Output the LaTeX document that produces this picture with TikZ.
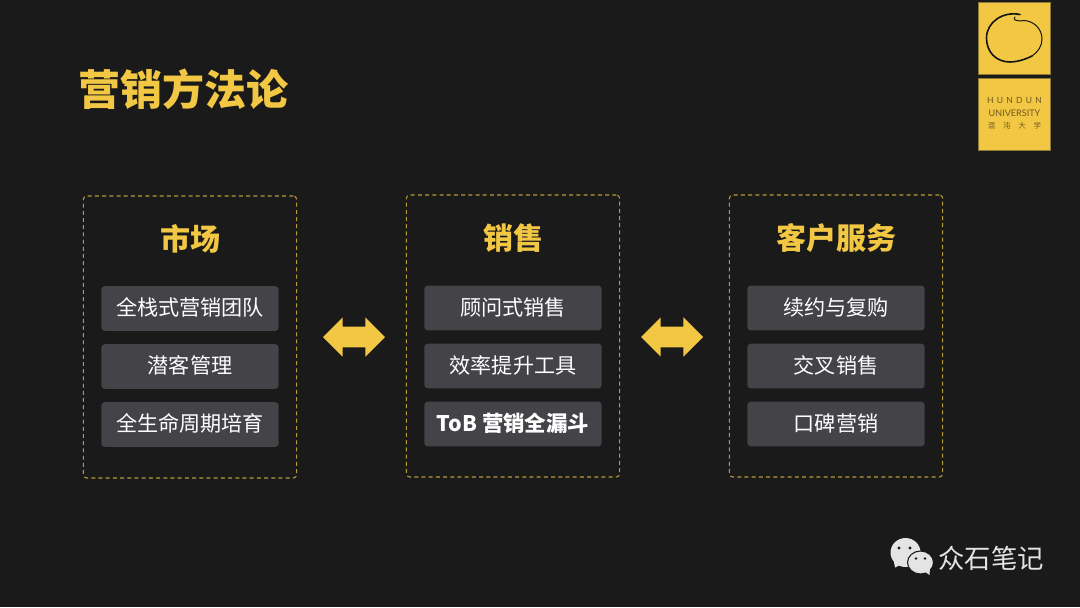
\documentclass[tikz,border=0pt]{standalone}
\usepackage{fontspec}
\setmainfont{Noto Sans CJK SC}
\newfontfamily\latinlogo{Lato}
\usetikzlibrary{shapes.arrows}
\definecolor{bgc}{HTML}{1A1A1A}
\definecolor{gold}{HTML}{F2C744}
\definecolor{dashc}{HTML}{B89A36}
\definecolor{itemc}{HTML}{434348}
\definecolor{inkc}{HTML}{141414}
\definecolor{logotext}{HTML}{6E5A20}
\definecolor{iconc}{HTML}{E4E4E4}
\definecolor{edgec}{HTML}{8E7A34}
\newcommand{\pxfont}[1]{\fontsize{#1}{#1}\selectfont}
\tikzset{
 panel/.style={draw=dashc,line width=0.8pt,dash pattern=on 3pt off 2.4pt,rounded corners=2.5pt,minimum width=160pt,minimum height=211.5pt,inner sep=0pt,outer sep=0pt},
 item/.style={fill=itemc,rounded corners=2.5pt,minimum width=133pt,minimum height=33.5pt,inner sep=0pt,text=white,font=\pxfont{15.85pt},text height=12pt,text depth=0.9pt},
 head/.style={text=gold,font=\bfseries\pxfont{22.5pt},inner sep=0pt,text height=18pt,text depth=0.9pt},
 link/.style={double arrow,fill=gold,draw=none,minimum height=46.5pt,minimum width=29.25pt,double arrow head extend=7pt,double arrow tip angle=90,inner xsep=0pt,inner ysep=7.5pt},
 logobox/.style={fill=gold,draw=edgec,line width=0.6pt,minimum width=54.5pt,minimum height=54pt,inner sep=0pt},
 logotxt/.style={text=logotext,inner sep=0pt},
 ink/.style={draw=inkc,line cap=round,line join=round},
}
\begin{document}
\begin{tikzpicture}[x=0.75pt,y=-0.75pt]
\fill[bgc] (0,0) rectangle (1080,607);
\useasboundingbox (0,0) rectangle (1080,607);
\node[text=gold,font=\bfseries\pxfont{31.5pt},inner sep=0pt,anchor=west,text height=26pt,text depth=3pt] (title) at (78.5,90) {营销方法论};

\node[panel] (p1) at (190,337) {};
\node[panel] (p2) at (513,336) {};
\node[panel] (p3) at (836,336) {};
\node[head] (h1) at (190,239) {市场};
\node[head] (h2) at (513,238) {销售};
\node[head] (h3) at (836,238) {客户服务};

\node[item] (a1) at (190,308.5) {全栈式营销团队};
\node[item] (a2) at (190,366.5) {潜客管理};
\node[item] (a3) at (190,424.5) {全生命周期培育};
\node[item] (b1) at (513,308) {顾问式销售};
\node[item] (b2) at (513,366) {效率提升工具};
\node[item,font=\bfseries\pxfont{16.1pt}] (b3) at (513,424) {ToB 营销全漏斗};
\node[item] (c1) at (836,308) {续约与复购};
\node[item] (c2) at (836,366) {交叉销售};
\node[item] (c3) at (836,424) {口碑营销};

\node[link] (l1) at (354,337) {};
\node[link] (l2) at (672,337) {};

\node[logobox] (logoa) at (1014.5,38) {};
\node[logobox] (logob) at (1014.5,114) {};
\draw[ink,line width=1.2pt] (1020,14.5) .. controls (1003,11) and (986.5,22) .. (986.5,38) .. controls (986.5,52) and (996,62) .. (1010,62) .. controls (1016,62) and (1024,60) .. (1032,56);
\draw[ink,line width=0.75pt] (1032,56) .. controls (1038,52) and (1042,46) .. (1042,39) .. controls (1042,29) and (1034,21) .. (1024,20.5) .. controls (1021,20.5) and (1018,22) .. (1015,20) .. controls (1014,19) and (1014,18) .. (1015,17);
\node[logotxt,font=\latinlogo\pxfont{6.4pt}] (lt1) at (1014.5,100.5) {H\hspace{2.4pt}U\hspace{2.4pt}N\hspace{2.4pt}D\hspace{2.4pt}U\hspace{2.4pt}N};
\node[logotxt,font=\latinlogo\pxfont{6.8pt}] (lt2) at (1014.5,113) {UNIVERSITY};
\node[logotxt,font=\pxfont{5.6pt}] (lt3) at (1014.5,125.5) {混\hspace{5.8pt}沌\hspace{5.8pt}大\hspace{5.8pt}学};

% WeChat icon
\fill[iconc] (905.5,552.5) ellipse [x radius=15,y radius=14.5];
\fill[iconc] (894,562) -- (895,567.5) -- (902,564) -- cycle;
\fill[iconc,draw=bgc,line width=0.8pt] (920.5,562.5) ellipse [x radius=13,y radius=11.5];
\fill[iconc] (924,571) -- (929.5,575) -- (930,568) -- cycle;
\fill[bgc] (899,548) circle [radius=1.6];
\fill[bgc] (910,548) circle [radius=1.6];
\fill[bgc] (916,558.5) circle [radius=1.4];
\fill[bgc] (925,558.5) circle [radius=1.4];
\node[text=iconc,font=\pxfont{19.8pt},inner sep=0pt,anchor=west,text height=16pt,text depth=2pt] (wm) at (938,559) {众石笔记};
\end{tikzpicture}
\end{document}
